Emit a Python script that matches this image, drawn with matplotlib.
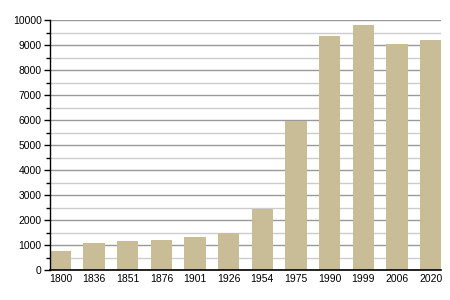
import matplotlib
matplotlib.use("Agg")
import matplotlib.pyplot as plt
from matplotlib.ticker import MultipleLocator

# ---------- data ----------
years = ["1800", "1836", "1851", "1876", "1901", "1926", "1954", "1975",
         "1990", "1999", "2006", "2020"]
population = [760, 1070, 1160, 1200, 1310, 1480, 2440, 5960,
              9360, 9800, 9040, 9200]

plt.rcParams["font.family"] = ["Liberation Sans", "DejaVu Sans"]

fig = plt.figure(figsize=(4.5, 3.0), dpi=100)
ax = fig.add_axes([50 / 450, 30 / 300, 391 / 450, 250 / 300])

x = list(range(len(years)))
ax.bar(x, population, width=0.64, color="#c8bd96", zorder=3)

ax.set_xlim(-0.31, len(years) - 0.69)
ax.set_ylim(0, 10000)
ax.set_xticks(x)
ax.set_xticklabels(years)
ax.yaxis.set_major_locator(MultipleLocator(1000))
ax.yaxis.set_minor_locator(MultipleLocator(500))

ax.grid(axis="y", which="major", color="#999999", linewidth=1.0, zorder=0)
ax.grid(axis="y", which="minor", color="#cccccc", linewidth=1.0, zorder=0)

for s in ["top", "right"]:
    ax.spines[s].set_visible(False)
ax.spines["left"].set_linewidth(1.0)
ax.spines["bottom"].set_linewidth(1.2)
ax.spines["left"].set_zorder(4)
ax.spines["bottom"].set_zorder(4)

ax.tick_params(axis="y", which="major", length=4, width=1, labelsize=7.5, pad=2)
ax.tick_params(axis="y", which="minor", length=3, width=1)
ax.tick_params(axis="x", length=0, labelsize=7.5, pad=3)

fig.savefig("out.png", dpi=100)
